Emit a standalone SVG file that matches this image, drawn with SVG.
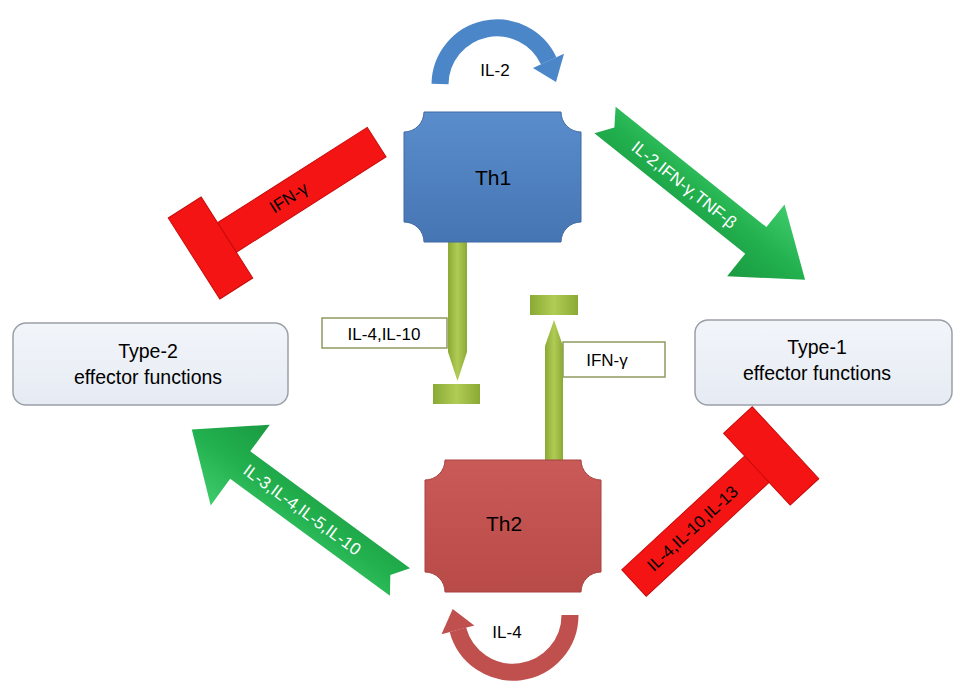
<svg xmlns="http://www.w3.org/2000/svg" width="955" height="681" viewBox="0 0 955 681">
<style>
text{font-family:"Liberation Sans",Arial,sans-serif;text-anchor:middle;dominant-baseline:central;fill:#000}
.red{fill:#f51414;stroke:#c80a0a;stroke-width:1}
.grn{fill:url(#gGreen)}
.yg{fill:url(#gYG)}
.lbl{fill:#fff;stroke:#8f9b62;stroke-width:1.5}
.typ{fill:url(#gType);stroke:#9aa0a8;stroke-width:1.5}
</style>
<defs>
<linearGradient id="gBlue" x1="0" y1="0" x2="0" y2="1"><stop offset="0" stop-color="#5a8dcc"/><stop offset="1" stop-color="#4675b3"/></linearGradient>
<linearGradient id="gRed" x1="0" y1="0" x2="0" y2="1"><stop offset="0" stop-color="#c95a57"/><stop offset="1" stop-color="#b84a47"/></linearGradient>
<linearGradient id="gGreen" x1="0" y1="0" x2="0" y2="1"><stop offset="0" stop-color="#3fcb6c"/><stop offset="0.5" stop-color="#22b04e"/><stop offset="1" stop-color="#1a9a42"/></linearGradient>
<linearGradient id="gYG" x1="0" y1="0" x2="1" y2="0"><stop offset="0" stop-color="#8aaa35"/><stop offset="0.5" stop-color="#b0cc55"/><stop offset="1" stop-color="#8aaa35"/></linearGradient>
<linearGradient id="gType" x1="0" y1="0" x2="0" y2="1"><stop offset="0" stop-color="#f2f5fa"/><stop offset="1" stop-color="#e6ebf3"/></linearGradient>
</defs>

<g id="connectors">
  <g id="loop-il2">
    <path d="M440,84 A57,57 0 0 1 548.7,60.9" fill="none" stroke="#4a86c8" stroke-width="17"/>
    <polygon points="564,53.7 533,68 556,82" fill="#4a86c8"/>
  </g>
  <g id="loop-il4">
    <path d="M570,615 A57,57 0 0 1 457.9,629.8" fill="none" stroke="#c0504d" stroke-width="17"/>
    <polygon points="441.5,634.2 474.3,625.4 452.7,609" fill="#c0504d"/>
  </g>
  <g id="arrow-th1-type1" transform="translate(605,120) rotate(38.6)">
    <path class="grn" d="M0,-17 L193,-17 L193,-46 L256,0 L193,46 L193,17 L0,17 L12,0 Z"/>
  </g>
  <text transform="translate(684,185) rotate(38.6)" font-size="17" style="fill:#fff">IL-2,IFN-γ,TNF-β</text>
  <g id="arrow-th2-type2" transform="translate(400,582) rotate(216.2)">
    <path class="grn" d="M0,-17 L198,-17 L198,-50 L258,0 L198,50 L198,17 L0,17 L12,0 Z"/>
  </g>
  <text transform="translate(302,510) rotate(36.2)" font-size="17" style="fill:#fff">IL-3,IL-4,IL-5,IL-10</text>
  <g id="inhib-th1-type2" transform="translate(210.5,248) rotate(-32.5)">
    <rect class="red" x="19.5" y="-17.5" width="177.5" height="35"/>
    <rect class="red" x="-19.5" y="-48" width="39" height="96"/>
    <text x="93" y="0" font-size="17">IFN-γ</text>
  </g>
  <g id="inhib-th2-type1" transform="translate(634,583) rotate(-42.8)">
    <rect class="red" x="0" y="-18" width="168" height="36"/>
    <rect class="red" x="167.5" y="-49" width="39" height="98"/>
    <text x="80" y="0" font-size="17">IL-4,IL-10,IL-13</text>
  </g>
  <g id="inhib-th1-th2">
    <rect class="lbl" x="322" y="318" width="125" height="30"/>
    <text x="384" y="334" font-size="17">IL-4,IL-10</text>
    <path class="yg" d="M448,242 H467 V352 L457.5,381 L448,352 Z"/>
    <rect class="yg" x="433" y="384" width="47" height="20"/>
  </g>
  <g id="inhib-th2-th1">
    <rect class="lbl" x="563" y="342" width="102" height="35"/>
    <text x="607" y="360" font-size="17">IFN-γ</text>
    <path class="yg" d="M545,461 V346 L554,320 L563,346 V461 Z"/>
    <rect class="yg" x="530" y="295" width="48" height="20"/>
  </g>
</g>

<g id="th1">
  <path d="M424,112 H561 A20,20 0 0 0 581,132 V222 A20,20 0 0 0 561,242 H424 A20,20 0 0 0 404,222 V132 A20,20 0 0 0 424,112 Z" fill="url(#gBlue)" stroke="#3f6aa3" stroke-width="1"/>
  <text x="493" y="177" font-size="21">Th1</text>
  <text x="495" y="70" font-size="17">IL-2</text>
</g>

<g id="th2">
  <path d="M445,460 H581 A20,20 0 0 0 601,480 V572 A20,20 0 0 0 581,592 H445 A20,20 0 0 0 425,572 V480 A20,20 0 0 0 445,460 Z" fill="url(#gRed)" stroke="#a84340" stroke-width="1"/>
  <text x="504" y="523" font-size="21">Th2</text>
  <text x="507" y="632" font-size="17">IL-4</text>
</g>

<g id="type2">
  <rect class="typ" x="13" y="323" width="275" height="82" rx="13"/>
  <text x="148" y="351" font-size="19.5">Type-2</text>
  <text x="148" y="377" font-size="19.5">effector functions</text>
</g>

<g id="type1">
  <rect class="typ" x="695" y="320" width="257" height="85" rx="13"/>
  <text x="817" y="347" font-size="19.5">Type-1</text>
  <text x="817" y="373" font-size="19.5">effector functions</text>
</g>
</svg>
